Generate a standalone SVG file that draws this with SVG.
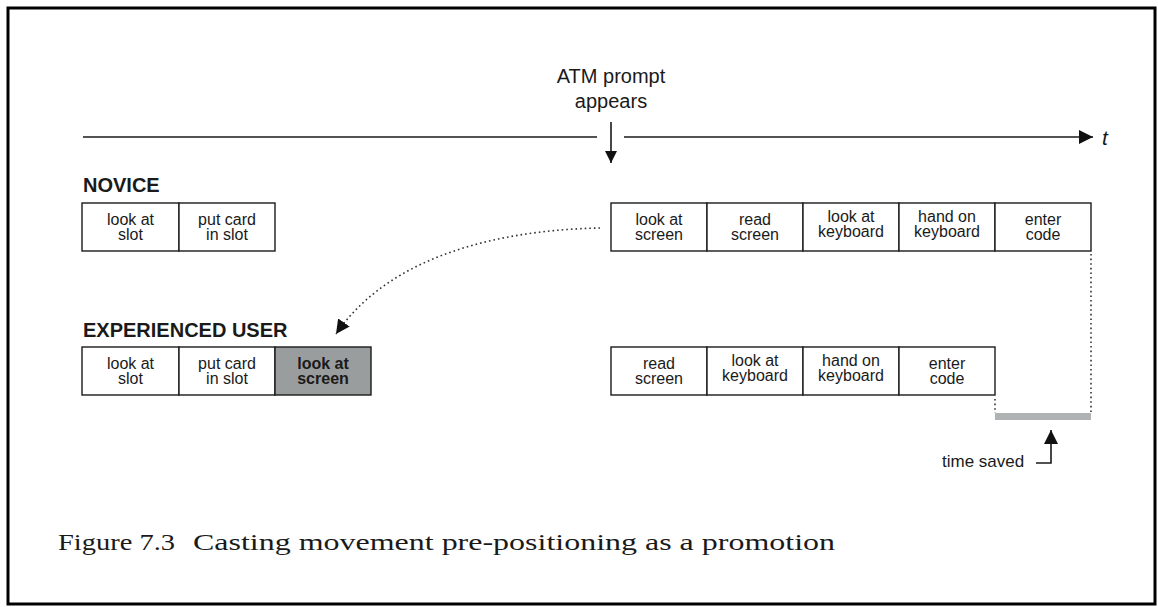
<svg xmlns="http://www.w3.org/2000/svg" width="1158" height="607" viewBox="0 0 1158 607">
  <style>
    .frame { fill: #fff; stroke: #000; stroke-width: 3; }
    .axis { stroke: #1a1a1a; stroke-width: 1.6; fill: none; }
    .box { fill: #fff; stroke: #1a1a1a; stroke-width: 1.4; }
    .box-hl { fill: #9a9d9d; stroke: #1a1a1a; stroke-width: 1.4; }
    .lbl { font-family: "Liberation Sans", Arial, sans-serif; font-size: 16px; fill: #1a1a1a; text-anchor: middle; }
    .lbl-b { font-family: "Liberation Sans", Arial, sans-serif; font-size: 16px; font-weight: bold; fill: #1a1a1a; text-anchor: middle; }
    .head { font-family: "Liberation Sans", Arial, sans-serif; font-size: 20px; font-weight: bold; fill: #1a1a1a; }
    .note { font-family: "Liberation Sans", Arial, sans-serif; font-size: 20px; fill: #1a1a1a; text-anchor: middle; }
    .small { font-family: "Liberation Sans", Arial, sans-serif; font-size: 17px; fill: #1a1a1a; }
    .caption { font-family: "Liberation Serif", "Times New Roman", serif; font-size: 24px; fill: #1a1a1a; }
    .dots { stroke: #333; stroke-width: 1.6; fill: none; stroke-dasharray: 1.6 3; }
  </style>
  <defs>
    <marker id="tri" viewBox="0 0 12 12" refX="12" refY="6" markerWidth="12" markerHeight="12" markerUnits="userSpaceOnUse" orient="auto">
      <path d="M0,0 L12,6 L0,12 Z" fill="#111"/>
    </marker>
    <marker id="tri-big" viewBox="0 0 14 14" refX="14" refY="7" markerWidth="14" markerHeight="14" markerUnits="userSpaceOnUse" orient="auto">
      <path d="M0,0 L14,7 L0,14 Z" fill="#111"/>
    </marker>
  </defs>

  <rect class="frame" x="8" y="8" width="1147" height="596"/>

  <!-- time axis -->
  <g id="timeline">
    <line class="axis" x1="83" y1="137" x2="597" y2="137"/>
    <line class="axis" x1="624" y1="137" x2="1093" y2="137" marker-end="url(#tri-big)"/>
    <text x="1102" y="145" font-family="Liberation Sans, Arial, sans-serif" font-size="21" font-style="italic" fill="#1a1a1a">t</text>
  </g>

  <g id="prompt">
    <text class="note" x="611" y="83">ATM prompt</text>
    <text class="note" x="611" y="108">appears</text>
  </g>

  <g id="novice">
    <text class="head" x="83" y="192">NOVICE</text>
    <g id="n-look-slot">
      <rect class="box" x="82" y="203" width="97" height="48"/>
      <text class="lbl" x="130.5" y="225">look at</text>
      <text class="lbl" x="130.5" y="240">slot</text>
    </g>
    <g id="n-put-card">
      <rect class="box" x="179" y="203" width="96" height="48"/>
      <text class="lbl" x="227" y="225">put card</text>
      <text class="lbl" x="227" y="240">in slot</text>
    </g>
    <g id="n-look-screen">
      <rect class="box" x="611" y="203" width="96" height="48"/>
      <text class="lbl" x="659" y="225">look at</text>
      <text class="lbl" x="659" y="240">screen</text>
    </g>
    <g id="n-read-screen">
      <rect class="box" x="707" y="203" width="96" height="48"/>
      <text class="lbl" x="755" y="225">read</text>
      <text class="lbl" x="755" y="240">screen</text>
    </g>
    <g id="n-look-kb">
      <rect class="box" x="803" y="203" width="96" height="48"/>
      <text class="lbl" x="851" y="222">look at</text>
      <text class="lbl" x="851" y="237">keyboard</text>
    </g>
    <g id="n-hand-kb">
      <rect class="box" x="899" y="203" width="96" height="48"/>
      <text class="lbl" x="947" y="222">hand on</text>
      <text class="lbl" x="947" y="237">keyboard</text>
    </g>
    <g id="n-enter-code">
      <rect class="box" x="995" y="203" width="96" height="48"/>
      <text class="lbl" x="1043" y="225">enter</text>
      <text class="lbl" x="1043" y="240">code</text>
    </g>
  </g>

  <g id="experienced">
    <text class="head" x="83" y="337">EXPERIENCED USER</text>
    <g id="e-look-slot">
      <rect class="box" x="82" y="347" width="97" height="48"/>
      <text class="lbl" x="130.5" y="369">look at</text>
      <text class="lbl" x="130.5" y="384">slot</text>
    </g>
    <g id="e-put-card">
      <rect class="box" x="179" y="347" width="96" height="48"/>
      <text class="lbl" x="227" y="369">put card</text>
      <text class="lbl" x="227" y="384">in slot</text>
    </g>
    <g id="e-look-screen">
      <rect class="box-hl" x="275" y="347" width="96" height="48"/>
      <text class="lbl-b" x="323" y="369">look at</text>
      <text class="lbl-b" x="323" y="384">screen</text>
    </g>
    <g id="e-read-screen">
      <rect class="box" x="611" y="347" width="96" height="48"/>
      <text class="lbl" x="659" y="369">read</text>
      <text class="lbl" x="659" y="384">screen</text>
    </g>
    <g id="e-look-kb">
      <rect class="box" x="707" y="347" width="96" height="48"/>
      <text class="lbl" x="755" y="366">look at</text>
      <text class="lbl" x="755" y="381">keyboard</text>
    </g>
    <g id="e-hand-kb">
      <rect class="box" x="803" y="347" width="96" height="48"/>
      <text class="lbl" x="851" y="366">hand on</text>
      <text class="lbl" x="851" y="381">keyboard</text>
    </g>
    <g id="e-enter-code">
      <rect class="box" x="899" y="347" width="96" height="48"/>
      <text class="lbl" x="947" y="369">enter</text>
      <text class="lbl" x="947" y="384">code</text>
    </g>
  </g>

  <g id="connectors">
    <!-- prompt arrow -->
    <line class="axis" x1="611" y1="122" x2="611" y2="163" marker-end="url(#tri)"/>
    <!-- pre-positioning shift -->
    <path class="dots" d="M600,228 C500,230 390,255 336,334" marker-end="url(#tri-big)"/>
    <!-- time-saved guides -->
    <line class="dots" x1="1091" y1="254" x2="1091" y2="413"/>
    <line class="dots" x1="995" y1="399" x2="995" y2="413"/>
    <rect x="995" y="413" width="96" height="7" fill="#b0b3b3"/>
    <path class="axis" d="M1036,463 L1051,463 L1051,430" marker-end="url(#tri-big)"/>
  </g>

  <g id="time-saved">
    <text class="small" x="942" y="467">time saved</text>
  </g>

  <g id="caption">
    <text class="caption" x="58" y="550" textLength="117" lengthAdjust="spacingAndGlyphs">Figure 7.3</text>
    <text class="caption" x="193" y="550" textLength="642" lengthAdjust="spacingAndGlyphs">Casting movement pre-positioning as a promotion</text>
  </g>
</svg>
